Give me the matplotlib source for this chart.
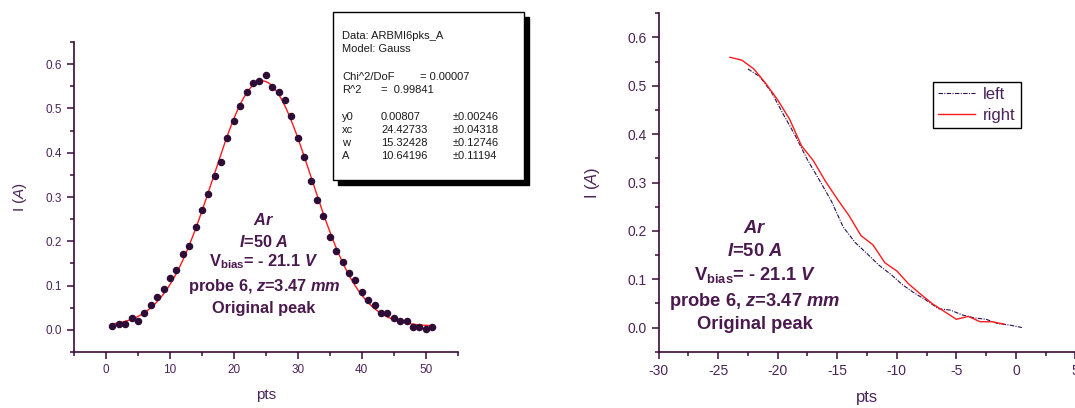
import numpy as np
import matplotlib
matplotlib.use("Agg")
import matplotlib.pyplot as plt
from matplotlib.patches import Rectangle
from matplotlib.ticker import MultipleLocator

plt.rcParams['font.family'] = ['Liberation Sans', 'DejaVu Sans']
plt.rcParams['axes.unicode_minus'] = False
plt.rcParams['mathtext.fontset'] = 'custom'
plt.rcParams['mathtext.rm'] = 'Liberation Sans'
plt.rcParams['mathtext.it'] = 'Liberation Sans:italic'
plt.rcParams['mathtext.bf'] = 'Liberation Sans:bold'
plt.rcParams['mathtext.bfit'] = 'Liberation Sans:bold:italic'
plt.rcParams['mathtext.sf'] = 'Liberation Sans'

# ---------------- data ----------------
pts = list(range(1, 52))
current = [0.008, 0.014, 0.014, 0.026, 0.020, 0.037, 0.056, 0.074, 0.093, 0.117,
           0.136, 0.172, 0.190, 0.233, 0.270, 0.306, 0.348, 0.379, 0.434, 0.471,
           0.506, 0.537, 0.557, 0.562, 0.575, 0.549, 0.537, 0.519, 0.482, 0.434,
           0.391, 0.336, 0.294, 0.257, 0.209, 0.178, 0.154, 0.129, 0.112, 0.086,
           0.068, 0.056, 0.038, 0.038, 0.026, 0.020, 0.020, 0.007, 0.007, 0.001, 0.007]

# Gauss fit parameters (from the fit report)
fit_names = ['y0', 'xc', 'w', 'A']
fit_values = [0.00807, 24.42733, 15.32428, 10.64196]
fit_errors = [0.00246, 0.04318, 0.12746, 0.11194]
chi2_dof = 0.00007
r2 = 0.99841

left_x = [-22.5, -21.5, -20.5, -19.5, -18.5, -17.5, -16.5, -15.5, -14.5, -13.5,
          -12.5, -11.5, -10.5, -9.5, -8.5, -7.5, -6.5, -5.5, -4.5, -3.5,
          -2.5, -1.5, -0.5, 0.5]
left_y = [0.535, 0.519, 0.486, 0.440, 0.396, 0.347, 0.305, 0.262, 0.208, 0.176,
          0.153, 0.129, 0.110, 0.088, 0.071, 0.056, 0.039, 0.036, 0.026, 0.020,
          0.017, 0.008, 0.005, 0.000]

right_x = [-24, -23, -22, -21, -20, -19, -18, -17, -16, -15, -14, -13,
           -12, -11, -10, -9, -8, -7, -6, -5, -4, -3, -2, -1]
right_y = [0.559, 0.553, 0.535, 0.505, 0.471, 0.431, 0.376, 0.345, 0.303, 0.266,
           0.231, 0.190, 0.171, 0.134, 0.117, 0.090, 0.069, 0.049, 0.033, 0.017,
           0.023, 0.012, 0.012, 0.007]

# ---------------- styling ----------------
W, H = 1075, 408
SPINE = '#3a0a3a'
TXT = '#4a2458'
ANN = '#4a1a4e'
DOT = '#2e0c36'
RED = '#ff1a1a'

fig = plt.figure(figsize=(W / 100, H / 100), dpi=100)


def px_axes(l, t, r, b):
    return fig.add_axes([l / W, 1 - b / H, (r - l) / W, (b - t) / H])


def style(ax, fs, xmaj, xmin):
    for s in ['top', 'right']:
        ax.spines[s].set_visible(False)
    for s in ['left', 'bottom']:
        ax.spines[s].set_color(SPINE)
        ax.spines[s].set_linewidth(1.2)
    ax.set_ylim(-0.05, 0.65)
    ax.yaxis.set_major_locator(MultipleLocator(0.1))
    ax.yaxis.set_minor_locator(MultipleLocator(0.05))
    ax.xaxis.set_major_locator(MultipleLocator(xmaj))
    ax.xaxis.set_minor_locator(MultipleLocator(xmin))
    ax.tick_params(which='major', length=5, width=1.1, color=SPINE,
                   labelcolor=TXT, labelsize=fs, pad=3.5)
    ax.tick_params(which='minor', length=3, width=1.1, color=SPINE)
    ax.yaxis.set_major_formatter(matplotlib.ticker.FormatStrFormatter('%.1f'))


# ---------------- left panel ----------------
ax1 = px_axes(74, 42, 457.7, 352)
style(ax1, 8.5, 10, 5)
ax1.set_xlim(-5, 55)
ax1.plot(pts, current, 'o', color=DOT, ms=4.4, zorder=3)
xf = np.linspace(pts[0], pts[-1], 400)
y0, xc, w, A = fit_values
yf = y0 + A / (w * np.sqrt(np.pi / 2)) * np.exp(-2 * ((xf - xc) / w) ** 2)
ax1.plot(xf, yf, '-', color=RED, lw=1.0, zorder=2)
ax1.set_xlabel('pts', fontsize=11, color=TXT, labelpad=9)
ax1.set_ylabel(r'I ($\mathit{A}$)', fontsize=11, color=TXT, labelpad=12)

# ---------------- right panel ----------------
ax2 = px_axes(658.5, 13.3, 1075.5, 351.7)
style(ax2, 10, 5, 2.5)
ax2.set_xlim(-30, 5)
ax2.plot(left_x, left_y, color='#2a1050', lw=0.8, dashes=(4, 1.2, 1, 1.2), label='left')
ax2.plot(right_x, right_y, color=RED, lw=1.0, label='right')
ax2.set_xlabel('pts', fontsize=12, color=TXT, labelpad=9)
ax2.set_ylabel(r'I ($\mathit{A}$)', fontsize=12, color=TXT, labelpad=18)
leg = ax2.legend(loc='upper left', bbox_to_anchor=(933 / W, 1 - 82 / H),
                 bbox_transform=fig.transFigure, fontsize=12, frameon=True,
                 fancybox=False, edgecolor='black', framealpha=1,
                 handlelength=2.2, handletextpad=0.5, labelspacing=0.35,
                 borderpad=0.3, borderaxespad=0)
leg.get_frame().set_linewidth(1.0)
for t in leg.get_texts():
    t.set_color(TXT)

# ---------------- annotations ----------------
ann_lines = [r'$\mathbfit{Ar}$',
             r'$\mathbfit{I}$=50 $\mathbfit{A}$',
             r'V$_{\mathbf{bias}}$= - 21.1 $\mathbfit{V}$',
             r'probe 6, $\mathbfit{z}$=3.47 $\mathbfit{mm}$',
             'Original peak']


def annotate(cx, baselines, fs):
    for s, b in zip(ann_lines, baselines):
        fig.text(cx / W, 1 - b / H, s, ha='center', va='baseline',
                 fontsize=fs, fontweight='bold', color=ANN, zorder=6)


annotate(264, [225, 246.7, 266.7, 290.7, 313.3], 11.8)
annotate(755, [233.3, 256, 280, 306, 329.3], 13.2)

# ---------------- fit report box ----------------
bx0, by0, bx1, by1 = 333, 12, 524, 180
sh = 5
fig.patches.append(Rectangle(((bx0 + sh) / W, 1 - (by1 + sh) / H), (bx1 - bx0) / W,
                             (by1 - by0) / H, transform=fig.transFigure,
                             facecolor='black', edgecolor='black', zorder=5))
fig.patches.append(Rectangle((bx0 / W, 1 - by1 / H), (bx1 - bx0) / W,
                             (by1 - by0) / H, transform=fig.transFigure,
                             facecolor='white', edgecolor='black', lw=1.0, zorder=5.5))

BFS = 8.0
BC = '#1a1a1a'


def btext(x, y, s):
    fig.text(x / W, 1 - y / H, s, fontsize=BFS, color=BC, ha='left',
             va='baseline', zorder=7)


btext(342, 39, 'Data: ARBMI6pks_A')
btext(342, 51.5, 'Model: Gauss')
btext(342, 80, 'Chi^2/DoF')
btext(420, 80, '= %.5f' % chi2_dof)
btext(342, 93, 'R^2')
btext(381, 93, '=  %.5f' % r2)
rows_y = [120, 133, 146, 159.5]
for n, v, e, yy in zip(fit_names, fit_values, fit_errors, rows_y):
    btext(342, yy, n)
    btext(381, yy, '%.5f' % v)
    btext(453, yy, '\u00b1%.5f' % e)

fig.savefig('out.png', dpi=100)
